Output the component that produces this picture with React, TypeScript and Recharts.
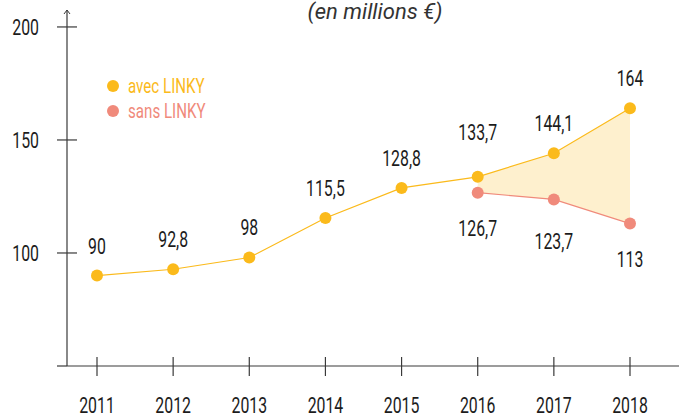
import React from "react";
import { ComposedChart, Line, Area, XAxis, YAxis, LabelList } from "recharts";

const years = ["2011", "2012", "2013", "2014", "2015", "2016", "2017", "2018"];
const avecLinky = [90, 92.8, 98, 115.5, 128.8, 133.7, 144.1, 164];
const sansLinky: (number | null)[] = [null, null, null, null, null, 126.7, 123.7, 113];
const yTicks = [100, 150, 200];

const Y_MIN = 50;
const Y_MAX = 207.5;

const data = years.map((year, i) => ({
  year,
  avec: avecLinky[i],
  sans: sansLinky[i],
  range: sansLinky[i] != null ? [sansLinky[i], avecLinky[i]] : null,
}));

const FONT = "Roboto, 'Noto Sans', sans-serif";
const SQUEEZE = 0.72;
const AXIS = "#3a3a3a";
const YELLOW = "#FBBA1B";
const SALMON = "#F08A7B";
const INK = "#1c1c1c";
const Y_MARGIN = 28;

const fmt = (v: number) => String(v).replace(".", ",");

// condensed-looking text: Roboto squeezed horizontally
const Narrow = ({ x, y, anchor, size, children }: any) => (
  <text
    transform={`translate(${x},${y}) scale(${SQUEEZE},1)`}
    dy="0.36em"
    textAnchor={anchor}
    fontFamily={FONT}
    fontSize={size}
    fill={INK}
  >
    {children}
  </text>
);

const YTick = (props: any) => {
  const { x, y, payload } = props;
  const ax = x + Y_MARGIN;
  const v = payload.value;
  if (v === Y_MIN) {
    return <line x1={ax - 10} x2={ax} y1={y} y2={y} stroke={AXIS} strokeWidth={1.2} />;
  }
  if (v === Y_MAX) {
    return <path d={`M${ax - 3},${y + 4} L${ax},${y} L${ax + 3},${y + 4}`} fill="none" stroke={AXIS} strokeWidth={1} />;
  }
  return (
    <g>
      <line x1={ax - 10} x2={ax + 10} y1={y} y2={y} stroke={AXIS} strokeWidth={1.2} />
      <Narrow x={x} y={y} anchor="end" size={22}>
        {v}
      </Narrow>
    </g>
  );
};

const XTick = (props: any) => {
  const { x, y, payload } = props;
  return (
    <g>
      <line x1={x} x2={x} y1={y - 9} y2={y + 10} stroke={AXIS} strokeWidth={1.2} />
      <Narrow x={x} y={y + 39} anchor="middle" size={22}>
        {payload.value}
      </Narrow>
    </g>
  );
};

const AvecLabel = (props: any) => {
  const { x, y, value, index } = props;
  const up = index === 5 ? 45 : 30;
  return (
    <Narrow x={x} y={y - up} anchor="middle" size={22}>
      {fmt(value)}
    </Narrow>
  );
};

const SansLabel = (props: any) => {
  const { x, y, value, index } = props;
  if (value == null) return null;
  const down = index === 6 ? 42 : 35;
  return (
    <Narrow x={x} y={y + down} anchor="middle" size={22}>
      {fmt(value)}
    </Narrow>
  );
};

const legendItems = [
  { label: "avec LINKY", color: YELLOW },
  { label: "sans LINKY", color: SALMON },
];

export default function App() {
  return (
    <div style={{ position: "absolute", left: 0, top: 0, width: 679, height: 416, background: "#fff" }}>
      <div
        style={{
          position: "absolute",
          left: 0,
          width: 750,
          top: 0,
          textAlign: "center",
          fontFamily: "Roboto, sans-serif",
          fontStyle: "italic",
          fontSize: 22,
          color: "#333",
          lineHeight: "24px",
        }}
      >
        (en millions €)
      </div>
      <div style={{ position: "absolute", left: 107, top: 73, fontFamily: FONT, fontSize: 21, zIndex: 2 }}>
        {legendItems.map((it) => (
          <div key={it.label} style={{ display: "flex", alignItems: "center", height: 25, color: it.color }}>
            <span
              style={{ width: 12, height: 12, borderRadius: 6, background: it.color, display: "inline-block", marginRight: 9, flex: "none" }}
            />
            <span style={{ display: "inline-block", transform: `scaleX(${SQUEEZE})`, transformOrigin: "left center", whiteSpace: "nowrap" }}>
              {it.label}
            </span>
          </div>
        ))}
      </div>
      <ComposedChart width={679} height={416} data={data} margin={{ top: 10, right: 0, bottom: 0, left: 0 }}>
        <XAxis
          dataKey="year"
          height={50}
          padding={{ left: 30, right: 49 }}
          axisLine={{ stroke: AXIS, strokeWidth: 1.2 }}
          tickLine={false}
          tickSize={0}
          tickMargin={0}
          interval={0}
          tick={<XTick />}
        />
        <YAxis
          type="number"
          width={67}
          domain={[Y_MIN, Y_MAX]}
          ticks={[Y_MIN, ...yTicks, Y_MAX]}
          interval={0}
          allowDataOverflow
          axisLine={{ stroke: AXIS, strokeWidth: 1.2 }}
          tickLine={false}
          tickSize={0}
          tickMargin={Y_MARGIN}
          tick={<YTick />}
        />
        <Area
          dataKey="range"
          stroke="none"
          fill="#FEF0CE"
          fillOpacity={1}
          isAnimationActive={false}
          activeDot={false}
          dot={false}
        />
        <Line
          dataKey="sans"
          stroke={SALMON}
          strokeWidth={1.2}
          dot={{ r: 6, fill: SALMON, stroke: "none" }}
          activeDot={false}
          isAnimationActive={false}
        >
          <LabelList dataKey="sans" content={<SansLabel />} />
        </Line>
        <Line
          dataKey="avec"
          stroke={YELLOW}
          strokeWidth={1.2}
          dot={{ r: 6, fill: YELLOW, stroke: "none" }}
          activeDot={false}
          isAnimationActive={false}
        >
          <LabelList dataKey="avec" content={<AvecLabel />} />
        </Line>
      </ComposedChart>
    </div>
  );
}
